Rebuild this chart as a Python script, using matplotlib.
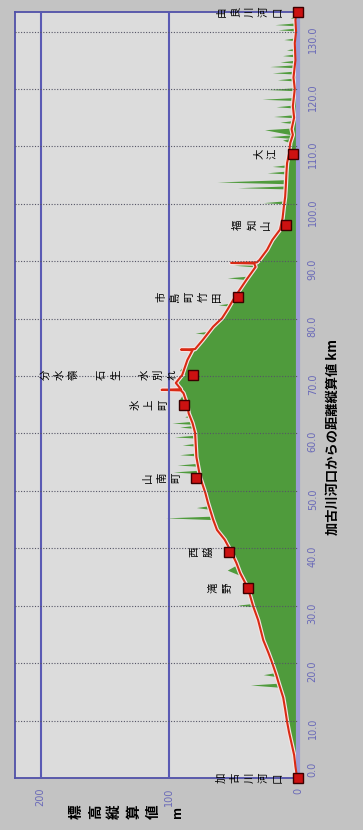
import matplotlib
matplotlib.use("Agg")
import matplotlib.pyplot as plt
import matplotlib.transforms as mtransforms

JP = ['Noto Sans CJK JP', 'DejaVu Sans']

# ルート (赤線): 加古川河口からの距離 km と 標高 m
route_km = [0.0, 0.5, 2.0, 4.0, 6.0, 8.0, 9.8, 12.0, 14.0, 16.5,
            18.0, 20.0, 21.8, 24.0, 27.5, 30.0, 33.1, 35.7, 37.5, 39.4,
            41.5, 43.2, 45.0, 47.9, 49.6, 52.3, 55.9, 60.1, 61.8, 63.5,
            65.0, 67.0, 67.5, 67.6, 67.7, 68.8, 70.2, 72.8, 74.5, 74.6,
            74.7, 76.3, 78.6, 80.1, 81.5, 83.8, 86.8, 89.0, 89.6, 89.7,
            89.8, 90.2, 92.0, 93.7, 95.5, 97.5, 99.5, 101.2, 103.0, 105.4,
            107.1, 108.7, 110.6, 112.0, 113.0, 115.0, 117.0, 120.0, 122.0, 125.0,
            128.0, 130.0, 132.0, 133.4]
route_m = [0, 1, 2, 3, 5, 7, 8.5, 10, 11.5, 15,
           17, 20, 23, 27, 31, 35, 39, 45, 48, 52,
           57, 63, 66, 70, 72, 76, 79, 80, 82, 85,
           86, 89, 91, 106, 91, 95, 90, 86, 82, 91,
           80, 74, 66, 59, 55, 49, 40, 33, 34, 52,
           32, 30, 24, 20, 14, 12, 11, 10, 9.5, 9,
           8.5, 7, 6, 4, 5, 3, 4, 2.5, 3.5, 2,
           2.5, 1.5, 2, 1]

# 地形 (緑)
terrain_km = [0.0, 2.0, 4.0, 6.0, 8.0, 9.8, 10.5, 12.0, 14.0, 15.8,
              16.2, 16.5, 17.7, 18.0, 18.3, 20.0, 21.8, 24.0, 27.5, 29.8,
              30.1, 30.4, 33.1, 35.0, 36.2, 37.2, 39.4, 41.5, 43.2, 45.0,
              45.3, 45.6, 46.8, 47.1, 47.4, 49.6, 52.3, 53.0, 53.3, 53.6,
              54.3, 54.5, 54.8, 56.1, 56.3, 56.6, 57.8, 58.0, 58.3, 59.2,
              59.4, 59.7, 60.9, 61.1, 61.4, 61.6, 61.8, 62.1, 62.7, 62.9,
              63.2, 65.0, 66.0, 67.0, 68.0, 69.0, 70.2, 71.0, 72.8, 74.0,
              75.0, 76.3, 77.3, 77.5, 77.8, 78.6, 80.1, 81.5, 82.2, 82.4,
              82.7, 83.8, 85.0, 86.8, 87.1, 87.4, 89.0, 89.3, 89.6, 90.2,
              92.0, 93.7, 95.5, 97.5, 99.5, 100.0, 100.2, 100.5, 102.6, 102.8,
              103.1, 103.5, 103.8, 104.2, 105.2, 105.4, 105.7, 106.3, 106.5, 106.8,
              107.1, 108.7, 110.6,
              111.1, 111.4, 111.7, 112.0, 112.9, 113.2, 114.0, 114.2, 114.5, 115.0,
              115.2, 115.5, 116.7,
              116.9, 117.2, 118.0, 118.2, 118.5, 119.7, 119.9, 120.2, 121.4, 121.6,
              121.9, 122.6, 122.8, 123.1, 123.7, 123.9, 124.2, 124.5, 124.7, 125.0,
              125.6, 125.8, 126.1, 126.6, 126.8, 127.1,
              128.4, 128.6, 128.9, 130.1, 130.3, 130.6, 131.0, 131.2, 131.5, 132.2,
              132.4, 132.7, 133.4]
terrain_m = [0, 2, 3.5, 5, 7, 8, 10, 11, 13, 14,
             37, 16, 18, 27, 19, 21, 23, 27, 31, 34,
             47, 35, 38, 42, 55, 47, 50, 56, 62, 66,
             103, 67, 69, 79, 70, 72, 76, 77, 97, 77,
             78, 94, 78, 79, 92, 79, 79, 90, 79, 80,
             96, 80, 81, 92, 81, 82, 98, 83, 84, 88,
             85, 86, 92, 89, 92, 95, 88, 92, 85, 82,
             80, 74, 72, 80, 69, 66, 59, 55, 54, 62,
             52, 49, 45, 40, 55, 39, 33, 50, 31, 30,
             24, 20, 14, 12, 11.5, 11, 27, 11, 10, 47,
             10, 10, 63, 9.5, 9, 24, 9, 8.5, 20, 8.5,
             8.5, 7, 6,
             12, 6, 22, 5, 26, 4, 4, 14, 4, 4,
             19, 4, 4,
             17, 3.5, 3.5, 28, 3, 3, 24, 3, 3, 16,
             3, 3, 20, 3, 3, 22, 3, 3, 14, 2.5,
             2.5, 12, 2.5, 2.5, 9, 2,
             2, 11, 2, 2, 15.5, 2, 2, 18, 2, 2,
             6, 1.5, 1]

station_names = ["加古川河口", "滝野", "西脇", "山南町", "氷上町",
                 "分水嶺 石生 水別れ", "市島町竹田", "福知山", "大江", "由良川河口"]
station_km = [0.0, 33.1, 39.4, 52.3, 65.0, 70.2, 83.8, 96.3, 108.7, 133.4]
station_m = [0, 39, 54, 79, 89, 82, 47, 9, 4, 0]

km_ticks = [0, 10, 20, 30, 40, 50, 60, 70, 80, 90, 100, 110, 120, 130]
m_ticks = [0, 100, 200]


fig = plt.figure(figsize=(3.63, 8.30), dpi=100, facecolor='#c3c3c3')
ax = fig.add_axes([15/363, 52/830, 283/363, 766/830])
ax.set_facecolor('#dcdcdc')

ax.fill_betweenx(terrain_km, 0, terrain_m, color='#4f9b3c', lw=0, zorder=1)
ax.plot(route_m, route_km, color='#f6e2e2', lw=3.2, zorder=2,
        solid_joinstyle='round')
ax.plot(route_m, route_km, color='#d92a14', lw=1.5, zorder=3,
        solid_joinstyle='round')

ax.set_xlim(220, 0)
ax.set_ylim(0, 133.4)

# 標高の縦線 (青) と距離の点線
for v in m_ticks[1:]:
    ax.axvline(v, color='#5a5ab4', lw=1.5, zorder=4)
for k in km_ticks[1:]:
    ax.axhline(k, color='#555566', lw=0.8, ls=(0, (1, 1.5)), zorder=4)

ax.set_xticks(m_ticks)
ax.set_xticklabels([str(v) for v in m_ticks], rotation=90, color='#6a6ab8',
                   fontsize=7)
ax.yaxis.tick_right()
ax.set_yticks(km_ticks)
ax.set_yticklabels(["%.1f" % v for v in km_ticks], rotation=90, va='center',
                   color='#6a6ab8', fontsize=7)
ax.tick_params(axis='x', length=0, pad=7)
ax.tick_params(axis='y', length=0, pad=7)

# 距離ラベルは少し下にずれている
for i, lab in enumerate(ax.get_yticklabels()):
    dy = 9/100 if i == 0 else -8/100
    lab.set_transform(lab.get_transform() +
                      mtransforms.ScaledTranslation(0, dy, fig.dpi_scale_trans))

for side in ['left', 'top', 'bottom']:
    ax.spines[side].set_color('#5050a8')
    ax.spines[side].set_linewidth(1.3)
ax.spines['right'].set_color('#9c9cd4')
ax.spines['right'].set_linewidth(3)

# 地点
ax.plot(station_m, station_km, 's', ms=7, mfc='#cc1111', mec='#3a0000',
        mew=1, clip_on=False, zorder=6)
for name, k, m in zip(station_names, station_km, station_m):
    ax.annotate("\n".join(name), (m, k), xytext=(-11, 0),
                textcoords='offset points', rotation=90, ha='right',
                va='center', fontsize=7.5, linespacing=1.5, family=JP,
                zorder=7, annotation_clip=False)

fig.text(114/363, 1 - 812/830, "\n".join("標高縦算値"), rotation=90,
         ha='center', va='center', fontsize=10.5, weight='bold',
         linespacing=1.25, family=JP)
fig.text(177/363, 1 - 812/830, "m", rotation=90, ha='center', va='center',
         fontsize=9, weight='bold', family=JP)
fig.text(333/363, 1 - 437/830, "加古川河口からの距離縦算値 km", rotation=90,
         ha='center', va='center', fontsize=9.5, weight='bold', family=JP)

fig.savefig("out.png", dpi=100, facecolor=fig.get_facecolor())
